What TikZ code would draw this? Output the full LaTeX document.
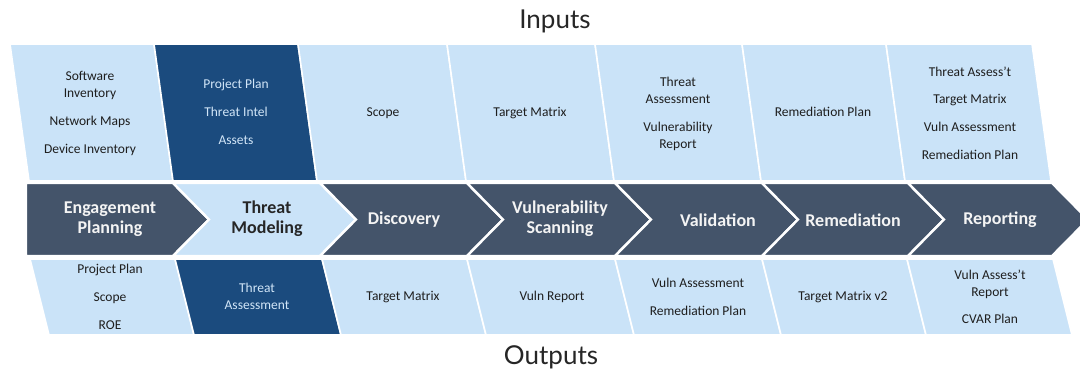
\documentclass[tikz,border=0pt]{standalone}
\usepackage{fontspec}
\setmainfont{Carlito}
\newfontfamily\headfont{Lato}

\definecolor{paleblue}{RGB}{202,227,248}
\definecolor{deepnavy}{RGB}{27,75,126}
\definecolor{slatebar}{RGB}{68,84,106}
\definecolor{inktext}{RGB}{30,30,30}
\definecolor{navyink}{RGB}{210,230,248}
\definecolor{barink}{RGB}{244,244,244}

\begin{document}
\begin{tikzpicture}[x=1pt,y=-1pt,
  panel/.style={draw=white, line width=1.6pt, line join=miter},
  stage/.style={draw=white, line width=2.4pt, line join=miter},
  item/.style={text=inktext, align=center, inner sep=0pt,
    font=\fontsize{13.5}{17}\selectfont},
  navyitem/.style={item, text=navyink},
  stagelabel/.style={text=barink, align=center, inner sep=0pt,
    font=\bfseries\fontsize{18}{20}\selectfont},
  stagelabeldark/.style={stagelabel, text=black!85},
  heading/.style={text=black!85, inner sep=0pt,
    font=\headfont\fontsize{26}{28}\selectfont}]

\useasboundingbox (0,0) rectangle (1080,374);
\fill[white] (0,0) rectangle (1080,374);

\begin{scope}
\clip (0,0) rectangle (1080,374);

% ---- input panels (top row) ----
\foreach \a/\b/\c in {10/154/paleblue, 154/298/deepnavy, 298/447/paleblue,
    447/595/paleblue, 595/742/paleblue, 742/886/paleblue, 886/1032/paleblue}
  \filldraw[panel, fill=\c] (\a,44) -- (\b,44) -- (\b+19,181) -- (\a+19,181) -- cycle;

% ---- output panels (bottom row) ----
\foreach \a/\b/\c in {30/175/paleblue, 175/322/deepnavy, 322/467/paleblue,
    467/615/paleblue, 615/762/paleblue, 762/907/paleblue, 907/1053/paleblue}
  \filldraw[panel, fill=\c] (\a,259) -- (\b,259) -- (\b+19,335) -- (\a+19,335) -- cycle;

% ---- process chevrons ----
\filldraw[stage, fill=slatebar] (26,183) -- (173,183) -- (209,219.5) -- (173,256) -- (26,256) -- cycle;
\foreach \a/\b/\c in {173/320/paleblue, 320/467/slatebar, 467/615/slatebar,
    615/762/slatebar, 762/908/slatebar, 908/1052/slatebar}
  \filldraw[stage, fill=\c] (\a,183) -- (\b,183) -- (\b+36,219.5) -- (\b,256)
    -- (\a,256) -- (\a+36,219.5) -- cycle;
\end{scope}

% ---- headings ----
\node[heading] (inputs) at (555,21) {Inputs};
\node[heading] (outputs) at (551,357) {Outputs};

% ---- stage names ----
\node[stagelabel] (s1) at (110,219) {Engagement\\Planning};
\node[stagelabeldark] (s2) at (267,219) {Threat\\Modeling};
\node[stagelabel] (s3) at (404,220) {Discovery};
\node[stagelabel] (s4) at (560,219) {Vulnerability\\Scanning};
\node[stagelabel] (s5) at (718,220) {Validation};
\node[stagelabel] (s6) at (853,220) {Remediation};
\node[stagelabel] (s7) at (1000,220) {Reporting};

% ---- inputs ----
\node[item] (in1a) at (90,85.5) {Software\\Inventory};
\node[item] (in1b) at (90,122) {Network Maps};
\node[item] (in1c) at (90,150) {Device Inventory};

\node[navyitem] (in2a) at (236,85) {Project Plan};
\node[navyitem] (in2b) at (236,112) {Threat Intel};
\node[navyitem] (in2c) at (236,140) {Assets};

\node[item] (in3) at (383,113) {Scope};
\node[item] (in4) at (530,113) {Target Matrix};

\node[item] (in5a) at (678,90.5) {Threat\\Assessment};
\node[item] (in5b) at (678,136) {Vulnerability\\Report};

\node[item] (in6) at (823,112) {Remediation Plan};

\node[item] (in7a) at (970,72) {Threat Assess’t};
\node[item] (in7b) at (970,100) {Target Matrix};
\node[item] (in7c) at (970,127) {Vuln Assessment};
\node[item] (in7d) at (970,155) {Remediation Plan};

% ---- outputs ----
\node[item] (out1a) at (110,270) {Project Plan};
\node[item] (out1b) at (110,298) {Scope};
\node[item] (out1c) at (110,325) {ROE};

\node[navyitem] (out2) at (257,296.5) {Threat\\Assessment};

\node[item] (out3) at (403,297) {Target Matrix};
\node[item] (out4) at (552,297) {Vuln Report};

\node[item] (out5a) at (698,283) {Vuln Assessment};
\node[item] (out5b) at (698,311) {Remediation Plan};

\node[item] (out6) at (843,297) {Target Matrix v2};

\node[item] (out7a) at (990,284) {Vuln Assess’t\\Report};
\node[item] (out7b) at (990,319) {CVAR Plan};
\end{tikzpicture}
\end{document}
